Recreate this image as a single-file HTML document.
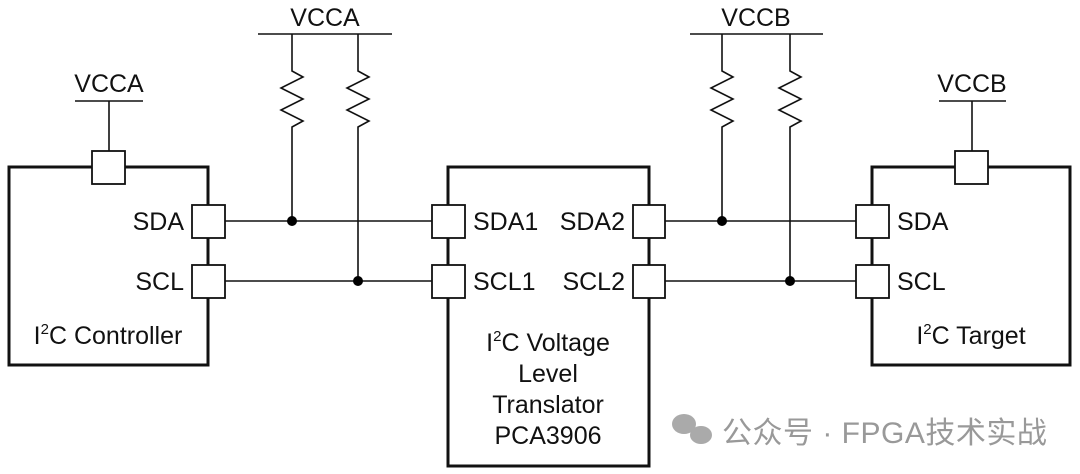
<!DOCTYPE html>
<html><head><meta charset="utf-8"><style>
body{margin:0;background:#fff;}
svg{display:block}
text{font-family:"Liberation Sans",Arial,sans-serif;font-size:25px;fill:#111}
</style></head><body>
<svg width="1080" height="474" viewBox="0 0 1080 474" xmlns="http://www.w3.org/2000/svg">
<g fill="none" stroke="#111">
<rect x="9" y="167" width="199" height="198" stroke-width="3"/>
<rect x="448" y="167" width="201" height="299" stroke-width="3"/>
<rect x="872" y="167" width="198" height="198" stroke-width="3"/>
<g stroke-width="1.6">
<line x1="75" y1="101" x2="143" y2="101"/><line x1="109" y1="101" x2="109" y2="151"/>
<line x1="939" y1="101" x2="1006" y2="101"/><line x1="972" y1="101" x2="972" y2="151"/>
<line x1="258" y1="34" x2="392" y2="34"/>
<line x1="690" y1="34" x2="823" y2="34"/>
<polyline points="292,34 292,71 303,77 281,88 303,99 281,110 303,121 292,127 292,221"/>
<polyline points="358,34 358,71 369,77 347,88 369,99 347,110 369,121 358,127 358,281"/>
<polyline points="722,34 722,71 733,77 711,88 733,99 711,110 733,121 722,127 722,221"/>
<polyline points="790,34 790,71 801,77 779,88 801,99 779,110 801,121 790,127 790,281"/>
<line x1="225" y1="221" x2="432" y2="221"/>
<line x1="225" y1="281" x2="432" y2="281"/>
<line x1="665" y1="221" x2="856" y2="221"/>
<line x1="665" y1="281" x2="856" y2="281"/>
</g>
<g fill="#fff" stroke-width="1.8">
<rect x="92" y="151" width="33" height="33"/>
<rect x="955" y="151" width="33" height="33"/>
<rect x="192" y="205" width="33" height="33"/>
<rect x="192" y="265" width="33" height="33"/>
<rect x="432" y="205" width="33" height="33"/>
<rect x="432" y="265" width="33" height="33"/>
<rect x="633" y="205" width="32" height="33"/>
<rect x="633" y="265" width="32" height="33"/>
<rect x="856" y="205" width="33" height="33"/>
<rect x="856" y="265" width="33" height="33"/>
</g>
</g>
<g fill="#000">
<circle cx="292" cy="221" r="5"/><circle cx="358" cy="281" r="5"/>
<circle cx="722" cy="221" r="5"/><circle cx="790" cy="281" r="5"/>
</g>
<text x="109" y="92" text-anchor="middle">VCCA</text>
<text x="325" y="26" text-anchor="middle">VCCA</text>
<text x="756" y="26" text-anchor="middle">VCCB</text>
<text x="972" y="92" text-anchor="middle">VCCB</text>
<text x="184" y="230" text-anchor="end">SDA</text>
<text x="184" y="290" text-anchor="end">SCL</text>
<text x="473" y="230">SDA1</text>
<text x="473" y="290">SCL1</text>
<text x="625" y="230" text-anchor="end">SDA2</text>
<text x="625" y="290" text-anchor="end">SCL2</text>
<text x="897" y="230">SDA</text>
<text x="897" y="290">SCL</text>
<text x="108" y="344" text-anchor="middle">I<tspan font-size="15" dy="-10">2</tspan><tspan dy="10">C Controller</tspan></text>
<text x="548" y="351" text-anchor="middle">I<tspan font-size="15" dy="-10">2</tspan><tspan dy="10">C Voltage</tspan></text>
<text x="548" y="382" text-anchor="middle">Level</text>
<text x="548" y="413" text-anchor="middle">Translator</text>
<text x="548" y="444" text-anchor="middle">PCA3906</text>
<text x="971" y="344" text-anchor="middle">I<tspan font-size="15" dy="-10">2</tspan><tspan dy="10">C Target</tspan></text>
<g fill="#aaa">
<ellipse cx="684" cy="424" rx="12" ry="10"/><ellipse cx="701" cy="435" rx="11" ry="9"/>
</g>
<text x="722" y="443" style="fill:#999;font-family:'Liberation Sans','Noto Sans CJK SC',sans-serif;font-size:30px;letter-spacing:0.5px">公众号 · FPGA技术实战</text>
</svg>
</body></html>
